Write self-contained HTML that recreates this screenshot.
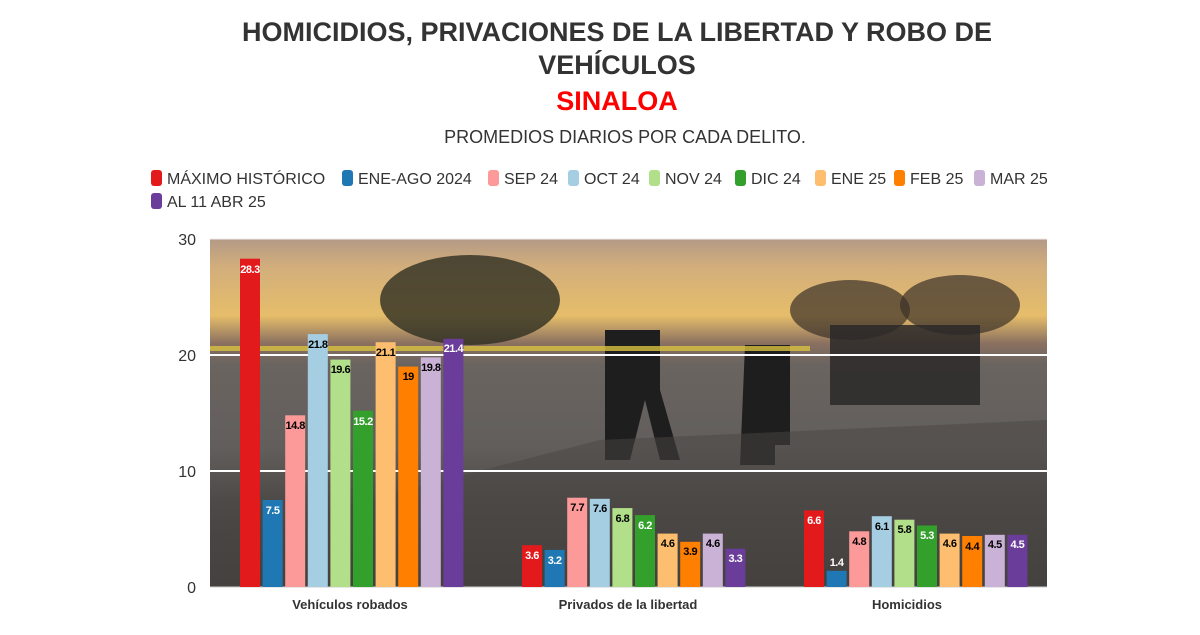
<!DOCTYPE html><html><head><meta charset="utf-8"><style>
body{margin:0;background:#fff;width:1200px;height:630px;overflow:hidden;font-family:"Liberation Sans",sans-serif}
</style></head><body>
<svg width="1200" height="630" xmlns="http://www.w3.org/2000/svg" font-family="Liberation Sans, sans-serif">
<defs>
<linearGradient id="bg" x1="0" y1="0" x2="0" y2="1">
<stop offset="0" stop-color="#b49a86"/><stop offset="0.08" stop-color="#d2ae7c"/><stop offset="0.22" stop-color="#e6bd6a"/><stop offset="0.3" stop-color="#8a7060"/><stop offset="0.36" stop-color="#6a6460"/><stop offset="0.6" stop-color="#625e5c"/><stop offset="0.75" stop-color="#4e4a48"/><stop offset="1" stop-color="#3e3c3a"/>
</linearGradient>
</defs>
<rect x="210" y="239" width="837" height="348" fill="url(#bg)"/>
<ellipse cx="470" cy="300" rx="90" ry="45" fill="#2e2e22" opacity="0.8"/>
<ellipse cx="850" cy="310" rx="60" ry="30" fill="#3a3028" opacity="0.7"/>
<ellipse cx="960" cy="305" rx="60" ry="30" fill="#3a3028" opacity="0.7"/>
<rect x="830" y="325" width="150" height="80" fill="#2a2828" opacity="0.85"/>
<path d="M605 330 h55 v60 l20 70 h-20 l-15 -60 l-15 60 h-25 z" fill="#1e1e1e"/>
<path d="M745 345 h45 v100 h-15 v20 h-35 z" fill="#1e1e1e"/>
<rect x="210" y="346" width="600" height="5" fill="#d8c040" opacity="0.8"/>
<path d="M210 540 L600 440 L1047 420 L1047 587 L210 587 Z" fill="#4a4644" opacity="0.5"/>
<line x1="210" y1="355" x2="1047" y2="355" stroke="#fff" stroke-width="2"/>
<line x1="210" y1="471" x2="1047" y2="471" stroke="#fff" stroke-width="2"/>
<line x1="210" y1="239" x2="1047" y2="239" stroke="#eee" stroke-width="1"/>
<line x1="210" y1="587" x2="1047" y2="587" stroke="#ccc" stroke-width="1"/>
<g font-size="16" fill="#333" text-anchor="end">
<text x="196" y="245">30</text><text x="196" y="361">20</text><text x="196" y="477">10</text><text x="196" y="593">0</text></g>
<g>
<rect x="240" y="258.7" width="20" height="328.3" fill="#e31a1c"/>
<rect x="262.6" y="500" width="20" height="87" fill="#1f78b4"/>
<rect x="285.2" y="415.3" width="20" height="171.7" fill="#fb9a99"/>
<rect x="307.8" y="334.1" width="20" height="252.9" fill="#a6cee3"/>
<rect x="330.4" y="359.6" width="20" height="227.4" fill="#b2df8a"/>
<rect x="353" y="410.7" width="20" height="176.3" fill="#33a02c"/>
<rect x="375.6" y="342.2" width="20" height="244.8" fill="#fdbf6f"/>
<rect x="398.2" y="366.6" width="20" height="220.4" fill="#ff7f00"/>
<rect x="420.8" y="357.3" width="20" height="229.7" fill="#cab2d6"/>
<rect x="443.4" y="338.8" width="20" height="248.2" fill="#6a3d9a"/>
<rect x="522" y="545.2" width="20" height="41.8" fill="#e31a1c"/>
<rect x="544.6" y="549.9" width="20" height="37.1" fill="#1f78b4"/>
<rect x="567.2" y="497.7" width="20" height="89.3" fill="#fb9a99"/>
<rect x="589.8" y="498.8" width="20" height="88.2" fill="#a6cee3"/>
<rect x="612.4" y="508.1" width="20" height="78.9" fill="#b2df8a"/>
<rect x="635" y="515.1" width="20" height="71.9" fill="#33a02c"/>
<rect x="657.6" y="533.6" width="20" height="53.4" fill="#fdbf6f"/>
<rect x="680.2" y="541.8" width="20" height="45.2" fill="#ff7f00"/>
<rect x="702.8" y="533.6" width="20" height="53.4" fill="#cab2d6"/>
<rect x="725.4" y="548.7" width="20" height="38.3" fill="#6a3d9a"/>
<rect x="804" y="510.4" width="20" height="76.6" fill="#e31a1c"/>
<rect x="826.6" y="570.8" width="20" height="16.2" fill="#1f78b4"/>
<rect x="849.2" y="531.3" width="20" height="55.7" fill="#fb9a99"/>
<rect x="871.8" y="516.2" width="20" height="70.8" fill="#a6cee3"/>
<rect x="894.4" y="519.7" width="20" height="67.3" fill="#b2df8a"/>
<rect x="917" y="525.5" width="20" height="61.5" fill="#33a02c"/>
<rect x="939.6" y="533.6" width="20" height="53.4" fill="#fdbf6f"/>
<rect x="962.2" y="536" width="20" height="51" fill="#ff7f00"/>
<rect x="984.8" y="534.8" width="20" height="52.2" fill="#cab2d6"/>
<rect x="1007.4" y="534.8" width="20" height="52.2" fill="#6a3d9a"/>
</g>
<g font-size="11" font-weight="bold" text-anchor="middle" letter-spacing="-0.5">
<text x="250" y="273" fill="#fff">28.3</text>
<text x="272.6" y="514" fill="#fff">7.5</text>
<text x="295.2" y="429" fill="#000">14.8</text>
<text x="317.8" y="348" fill="#000">21.8</text>
<text x="340.4" y="373" fill="#000">19.6</text>
<text x="363" y="425" fill="#fff">15.2</text>
<text x="385.6" y="356" fill="#000">21.1</text>
<text x="408.2" y="380" fill="#000">19</text>
<text x="430.8" y="371" fill="#000">19.8</text>
<text x="453.4" y="352" fill="#fff">21.4</text>
<text x="532" y="559" fill="#fff">3.6</text>
<text x="554.6" y="564" fill="#fff">3.2</text>
<text x="577.2" y="511" fill="#000">7.7</text>
<text x="599.8" y="512" fill="#000">7.6</text>
<text x="622.4" y="522" fill="#000">6.8</text>
<text x="645" y="529" fill="#fff">6.2</text>
<text x="667.6" y="547" fill="#000">4.6</text>
<text x="690.2" y="555" fill="#000">3.9</text>
<text x="712.8" y="547" fill="#000">4.6</text>
<text x="735.4" y="562" fill="#fff">3.3</text>
<text x="814" y="524" fill="#fff">6.6</text>
<text x="836.6" y="566" fill="#fff">1.4</text>
<text x="859.2" y="545" fill="#000">4.8</text>
<text x="881.8" y="530" fill="#000">6.1</text>
<text x="904.4" y="533" fill="#000">5.8</text>
<text x="927" y="539" fill="#fff">5.3</text>
<text x="949.6" y="547" fill="#000">4.6</text>
<text x="972.2" y="550" fill="#000">4.4</text>
<text x="994.8" y="548" fill="#000">4.5</text>
<text x="1017.4" y="548" fill="#fff">4.5</text>
</g>
<g font-size="13" font-weight="bold" fill="#333" text-anchor="middle">
<text x="350" y="609">Vehículos robados</text>
<text x="628" y="609">Privados de la libertad</text>
<text x="907" y="609">Homicidios</text>
</g>
<g font-weight="bold" text-anchor="middle">
<text x="617" y="41" font-size="27" fill="#333">HOMICIDIOS, PRIVACIONES DE LA LIBERTAD Y ROBO DE</text>
<text x="617" y="74" font-size="27" fill="#333">VEHÍCULOS</text>
<text x="617" y="110" font-size="27" fill="#f00">SINALOA</text>
</g>
<text x="625" y="143" font-size="18" fill="#333" text-anchor="middle">PROMEDIOS DIARIOS POR CADA DELITO.</text>
<g font-size="16" fill="#333">
<rect x="151" y="170" width="11" height="16" rx="3" fill="#e31a1c"/><text x="167" y="184">MÁXIMO HISTÓRICO</text>
<rect x="342" y="170" width="11" height="16" rx="3" fill="#1f78b4"/><text x="358" y="184">ENE-AGO 2024</text>
<rect x="488" y="170" width="11" height="16" rx="3" fill="#fb9a99"/><text x="504" y="184">SEP 24</text>
<rect x="568" y="170" width="11" height="16" rx="3" fill="#a6cee3"/><text x="584" y="184">OCT 24</text>
<rect x="649" y="170" width="11" height="16" rx="3" fill="#b2df8a"/><text x="665" y="184">NOV 24</text>
<rect x="735" y="170" width="11" height="16" rx="3" fill="#33a02c"/><text x="751" y="184">DIC 24</text>
<rect x="815" y="170" width="11" height="16" rx="3" fill="#fdbf6f"/><text x="831" y="184">ENE 25</text>
<rect x="894" y="170" width="11" height="16" rx="3" fill="#ff7f00"/><text x="910" y="184">FEB 25</text>
<rect x="974" y="170" width="11" height="16" rx="3" fill="#cab2d6"/><text x="990" y="184">MAR 25</text>
<rect x="151" y="193" width="11" height="16" rx="3" fill="#6a3d9a"/><text x="167" y="207">AL 11 ABR 25</text>
</g>
</svg>
</body></html>
